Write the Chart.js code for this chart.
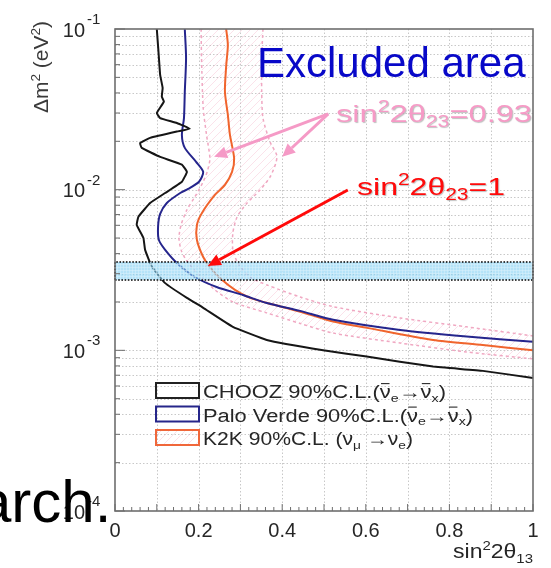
<!DOCTYPE html>
<html><head><meta charset="utf-8">
<script src="https://cdn.jsdelivr.net/npm/chart.js@4/dist/chart.umd.min.js"></script>
<style>html,body{margin:0;padding:0;background:#fff;overflow:hidden}#c{display:block}</style>
</head><body>
<canvas id="c" width="551" height="568"></canvas>
<script>
// ---- data (x = sin^2 2θ13, y = Δm^2 in eV^2) ----
const choozS = [0.100,0.104,0.108,0.114,0.112,0.117,0.100,0.108,0.148,0.179,0.148,0.084,0.060,0.064,0.108,0.160,0.172,0.160,0.120,0.084,0.056,0.052,0.068,0.072,0.088,0.120,0.172,0.211,0.282,0.363,0.498,0.602,0.761,0.880,1.000];
const choozDm2 = [0.100,0.0723,0.0518,0.0430,0.0379,0.0353,0.0300,0.0279,0.0260,0.0239,0.0230,0.0210,0.0195,0.0182,0.0160,0.0143,0.0129,0.0112,0.00953,0.00826,0.00679,0.00603,0.00500,0.00422,0.00332,0.00262,0.00212,0.00184,0.00140,0.00116,0.00100,0.000914,0.000792,0.000745,0.000673];
const paloS = [0.167,0.170,0.167,0.165,0.160,0.167,0.194,0.211,0.201,0.175,0.156,0.124,0.108,0.103,0.105,0.120,0.148,0.191,0.243,0.306,0.363,0.443,0.522,0.682,0.841,1.000];
const paloDm2 = [0.100,0.0661,0.0407,0.0279,0.0219,0.0182,0.0149,0.0129,0.0112,0.0101,0.00953,0.00826,0.00706,0.00586,0.00486,0.00422,0.00350,0.00286,0.00248,0.00221,0.00197,0.00176,0.00155,0.00134,0.00122,0.00113];
const k2kS = [0.266,0.270,0.266,0.263,0.270,0.275,0.285,0.280,0.263,0.239,0.208,0.196,0.196,0.211,0.227,0.251,0.287,0.323,0.364,0.443,0.522,0.603,0.761,0.880,1.000];
const k2kDm2 = [0.100,0.0795,0.0589,0.0407,0.0292,0.0219,0.0157,0.0129,0.0107,0.00927,0.00716,0.00603,0.00486,0.00381,0.00330,0.00282,0.00238,0.00212,0.00197,0.00174,0.00151,0.00138,0.00116,0.00108,0.00100];
const k2k93InnerS = [0.206,0.207,0.211,0.219,0.227,0.222,0.211,0.191,0.172,0.158,0.153,0.158,0.170,0.196,0.239,0.282,0.363,0.443,0.522,0.682,0.841,1.000];
const k2k93InnerDm2 = [0.100,0.0661,0.0322,0.0219,0.0157,0.0133,0.0112,0.00902,0.00748,0.00603,0.00500,0.00422,0.00366,0.00303,0.00238,0.00200,0.00171,0.00147,0.00128,0.00111,0.000977,0.000885];
const k2k93OuterS = [0.354,0.351,0.351,0.354,0.371,0.387,0.385,0.371,0.347,0.316,0.292,0.282,0.282,0.294,0.323,0.364,0.443,0.522,0.682,0.841,1.000];
const k2k93OuterDm2 = [0.100,0.0661,0.0405,0.0279,0.0198,0.0164,0.0147,0.0120,0.00996,0.00826,0.00676,0.00538,0.00422,0.00350,0.00286,0.00255,0.00215,0.00187,0.00159,0.00140,0.00123];
const bandDm2 = [0.00274, 0.00355];   // atmospheric Δm^2 band (low, high)
const bandS = [0, 1];
const xTicks = [0, 0.2, 0.4, 0.6, 0.8, 1];
const xTickLabels = ['0', '0.2', '0.4', '0.6', '0.8', '1'];
const yDecades = [-1, -2, -3, -4];
const legendLabels = ['CHOOZ 90%C.L.(', 'Palo Verde 90%C.L.(', 'K2K 90%C.L. ('];
// annotation anchors in data coordinates
const pinkArrowTail = [0.510, 0.0296];
const pinkArrowTips = [[0.237, 0.0160], [0.400, 0.0160]];
const redArrowTail = [0.557, 0.00996];
const redArrowTip = [0.222, 0.00335];

const pts = (xs, ys) => xs.map((x, i) => ({x, y: ys[i]}));
const FAM = '"Liberation Sans", Arial, Helvetica, sans-serif';

function makePattern(w, h, draw) {
  const c = document.createElement('canvas'); c.width = w; c.height = h;
  const g = c.getContext('2d'); draw(g, w, h);
  return document.getElementById('c').getContext('2d').createPattern(c, 'repeat');
}
const hatch = makePattern(8, 8, (g) => {
  g.strokeStyle = 'rgba(242,165,190,0.32)'; g.lineWidth = 1;
  g.beginPath(); g.moveTo(0, 8); g.lineTo(8, 0); g.moveTo(-1, 1); g.lineTo(1, -1); g.moveTo(7, 9); g.lineTo(9, 7); g.stroke();
});
const bandPat = makePattern(3, 3, (g) => {
  g.fillStyle = 'rgba(135,210,243,0.62)'; g.fillRect(0, 0, 3, 3);
  g.fillStyle = 'rgba(215,240,252,0.55)'; g.fillRect(0, 0, 3, 1); g.fillRect(0, 0, 1, 3);
});

function richWidth(ctx, parts, size) {
  let w = 0;
  for (const p of parts) {
    if (typeof p === 'string') { ctx.font = size + 'px ' + FAM; w += ctx.measureText(p).width; }
    else { const sz = p[0] === 'bar' ? size : size * 0.65; ctx.font = sz + 'px ' + FAM; w += ctx.measureText(p[1]).width; }
  }
  return w;
}
function drawRich(ctx, parts, x, y, size, color, sx = 1, sy = 1) {
  ctx.save(); ctx.translate(x, y); ctx.scale(sx, sy);
  ctx.fillStyle = color; ctx.strokeStyle = color; ctx.textBaseline = 'alphabetic'; ctx.textAlign = 'left';
  let cx = 0;
  for (const p of parts) {
    if (typeof p === 'string') {
      ctx.font = size + 'px ' + FAM; ctx.fillText(p, cx, 0); cx += ctx.measureText(p).width;
    } else {
      const [k, t] = p;
      if (k === 'bar') {
        ctx.font = size + 'px ' + FAM; const w = ctx.measureText(t).width;
        ctx.fillText(t, cx, 0);
        ctx.save(); ctx.shadowColor = 'transparent'; ctx.lineWidth = Math.max(1, size * 0.06);
        ctx.beginPath(); ctx.moveTo(cx + 1, -size * 0.8); ctx.lineTo(cx + w - 1, -size * 0.8); ctx.stroke(); ctx.restore();
        cx += w;
      } else {
        const sz = size * 0.65; ctx.font = sz + 'px ' + FAM;
        ctx.fillText(t, cx, k === '^' ? -size * 0.4 : size * 0.22);
        cx += ctx.measureText(t).width;
      }
    }
  }
  ctx.restore();
}
function drawFit(ctx, parts, x, y, size, color, width) {
  const sx = width / richWidth(ctx, parts, size);
  drawRich(ctx, parts, x, y, size, color, sx, 1);
}
function arrow(ctx, x1, y1, x2, y2, color, lw, hl, hw) {
  const a = Math.atan2(y2 - y1, x2 - x1);
  const bx = x2 - hl * Math.cos(a), by = y2 - hl * Math.sin(a);
  ctx.save();
  ctx.strokeStyle = color; ctx.lineWidth = lw; ctx.lineCap = 'butt';
  ctx.beginPath(); ctx.moveTo(x1, y1); ctx.lineTo(bx, by); ctx.stroke();
  ctx.fillStyle = color; ctx.beginPath(); ctx.moveTo(x2, y2);
  ctx.lineTo(bx + hw * Math.sin(a), by - hw * Math.cos(a));
  ctx.lineTo(bx - hw * Math.sin(a), by + hw * Math.cos(a)); ctx.closePath(); ctx.fill();
  ctx.restore();
}

const gridPlugin = {
  id: 'grid',
  beforeDatasetsDraw(chart) {
    const {ctx, chartArea: a, scales: {x, y}} = chart;
    ctx.save();
    ctx.strokeStyle = '#c8c8c8'; ctx.lineWidth = 1; ctx.setLineDash([1.5, 2]);
    for (let e = -4; e <= -2; e++) for (let m = 1; m <= 9; m++) {
      const v = m * Math.pow(10, e); if (v <= 1e-4 * 1.0001 || v >= 0.0999) continue;
      const py = Math.round(y.getPixelForValue(v)) + 0.5;
      ctx.beginPath(); ctx.moveTo(a.left, py); ctx.lineTo(a.right, py); ctx.stroke();
    }
    for (let i = 1; i <= 9; i++) {
      const px = Math.round(x.getPixelForValue(i / 10)) + 0.5;
      ctx.beginPath(); ctx.moveTo(px, a.top); ctx.lineTo(px, a.bottom); ctx.stroke();
    }
    ctx.restore();
  },
  afterDatasetsDraw(chart) {
    const {ctx, chartArea: a, scales: {x, y}} = chart;
    ctx.save();
    // frame
    ctx.strokeStyle = '#6e6e6e'; ctx.lineWidth = 1.6; ctx.setLineDash([]);
    ctx.strokeRect(a.left, a.top, a.right - a.left, a.bottom - a.top);
    // left ticks
    ctx.lineWidth = 1;
    for (let e = -4; e <= -1; e++) for (let m = 1; m <= 9; m++) {
      const v = m * Math.pow(10, e); if (v > 0.1001) continue;
      const py = y.getPixelForValue(v);
      ctx.beginPath(); ctx.moveTo(a.left, py); ctx.lineTo(a.left + (m === 1 ? 10 : 5), py); ctx.stroke();
    }
    // bottom ticks
    for (let i = 0; i <= 50; i++) {
      const px = x.getPixelForValue(i / 50);
      ctx.beginPath(); ctx.moveTo(px, a.bottom); ctx.lineTo(px, a.bottom - (i % 5 === 0 ? 7 : 4)); ctx.stroke();
    }
    // x tick labels
    ctx.fillStyle = '#262626'; ctx.font = '20px ' + FAM; ctx.textAlign = 'center'; ctx.textBaseline = 'alphabetic';
    xTicks.forEach((t, i) => ctx.fillText(xTickLabels[i], x.getPixelForValue(t), a.bottom + 26));
    // y tick labels 10^e
    yDecades.forEach(e => {
      const py = y.getPixelForValue(Math.pow(10, e));
      ctx.font = '20px ' + FAM; ctx.textAlign = 'right'; ctx.textBaseline = 'middle';
      ctx.fillText('10', a.left - 30, py + 2);
      ctx.font = '15px ' + FAM; ctx.textAlign = 'left'; ctx.textBaseline = 'alphabetic';
      ctx.fillText(String(e), a.left - 28, py - 5);
    });
    // axis titles
    drawFit(ctx, ['sin', ['^', '2'], '2θ', ['_', '13']], 453, 558, 21, '#262626', 80);
    ctx.save(); ctx.translate(48, 67); ctx.rotate(-Math.PI / 2);
    const yt = ['Δm', ['^', '2'], ' (eV', ['^', '2'], ')'];
    const yw = richWidth(ctx, yt, 21);
    drawRich(ctx, yt, -yw / 2, 0, 21, '#3a3a3a');
    ctx.restore();

    // annotations
    ctx.font = '42px ' + FAM; ctx.fillStyle = '#0808c8'; ctx.textAlign = 'left'; ctx.textBaseline = 'alphabetic';
    ctx.fillText('Excluded area', 257, 77);
    const P = (p) => [x.getPixelForValue(p[0]), y.getPixelForValue(p[1])];
    const pt = P(pinkArrowTail);
    pinkArrowTips.forEach(tp => { const q = P(tp); arrow(ctx, pt[0], pt[1], q[0], q[1], '#f59ac6', 3, 13, 6); });
    const rt = P(redArrowTail), rq = P(redArrowTip);
    arrow(ctx, rt[0], rt[1], rq[0], rq[1], '#ff0a0a', 3, 13, 6);
    ctx.save(); ctx.shadowColor = 'rgba(0,0,0,0.25)'; ctx.shadowOffsetX = 1; ctx.shadowOffsetY = 1; ctx.shadowBlur = 1;
    drawFit(ctx, ['sin', ['^', '2'], '2θ', ['_', '23'], '=0.93'], 336, 122, 24, '#f69ac6', 196);
    drawFit(ctx, ['sin', ['^', '2'], '2θ', ['_', '23'], '=1'], 357, 195, 24, '#ff0a0a', 148);
    ctx.restore();

    // legend
    const boxes = [['#222222', null], ['#26268a', null], ['#f0673a', hatch]];
    const tails = [
      [['bar', 'ν'], ['_', 'e'], '→', ['bar', 'ν'], ['_', 'x'], ')'],
      [['bar', 'ν'], ['_', 'e'], '→', ['bar', 'ν'], ['_', 'x'], ')'],
      ['ν', ['_', 'μ'], ' →', 'ν', ['_', 'e'], ')']
    ];
    const widths = [243, 270, 210];
    boxes.forEach((b, i) => {
      const top = 383 + i * 23.5;
      if (b[1]) { ctx.fillStyle = b[1]; ctx.fillRect(156, top, 43, 15); }
      ctx.strokeStyle = b[0]; ctx.lineWidth = 2; ctx.strokeRect(156, top, 43, 15);
      drawFit(ctx, [legendLabels[i], ...tails[i]], 203, top + 15, 18, '#262626', widths[i]);
    });

    // slide remnant text
    ctx.font = '60px ' + FAM; ctx.fillStyle = '#000'; ctx.textAlign = 'left'; ctx.textBaseline = 'alphabetic';
    ctx.fillText('arch.', -22, 522);
    ctx.restore();
  }
};

const line = (data, color, width, extra = {}) => Object.assign({
  data, showLine: true, borderColor: color, borderWidth: width, pointRadius: 0, fill: false, tension: 0.25
}, extra);

new Chart(document.getElementById('c'), {
  type: 'scatter',
  data: {
    datasets: [
      line([{x: bandS[0], y: bandDm2[0]}, {x: bandS[1], y: bandDm2[0]}, {x: bandS[1], y: bandDm2[1]}, {x: bandS[0], y: bandDm2[1]}, {x: bandS[0], y: bandDm2[0]}],
        '#000', 1.6, {fill: 'shape', backgroundColor: bandPat, borderDash: [1.6, 1.6], tension: 0, order: 0}),
      line(pts(choozS, choozDm2), '#161616', 2, {tension: 0.1, order: 1}),
      line(pts(paloS, paloDm2), '#25258c', 2, {order: 2}),
      line(pts(k2kS, k2kDm2), '#f0642d', 2, {order: 3}),
      line(pts(k2k93InnerS, k2k93InnerDm2), '#f0a8c2', 1.5, {borderDash: [3, 3], order: 4}),
      line(pts(k2k93OuterS, k2k93OuterDm2), '#f0a8c2', 1.5, {borderDash: [3, 3], order: 5}),
      line(pts(k2k93InnerS.concat(k2k93OuterS.slice().reverse()), k2k93InnerDm2.concat(k2k93OuterDm2.slice().reverse())),
        'rgba(0,0,0,0)', 0, {fill: 'shape', backgroundColor: hatch, order: 9})
    ]
  },
  options: {
    responsive: false, animation: false, devicePixelRatio: 1,
    layout: {padding: {left: 115, top: 29, right: 18, bottom: 57}},
    scales: {
      x: {type: 'linear', min: 0, max: 1, display: false},
      y: {type: 'logarithmic', min: 1e-4, max: 1e-1, display: false}
    },
    plugins: {legend: {display: false}, tooltip: {enabled: false}},
    clip: false
  },
  plugins: [gridPlugin]
});
</script>
</body></html>
